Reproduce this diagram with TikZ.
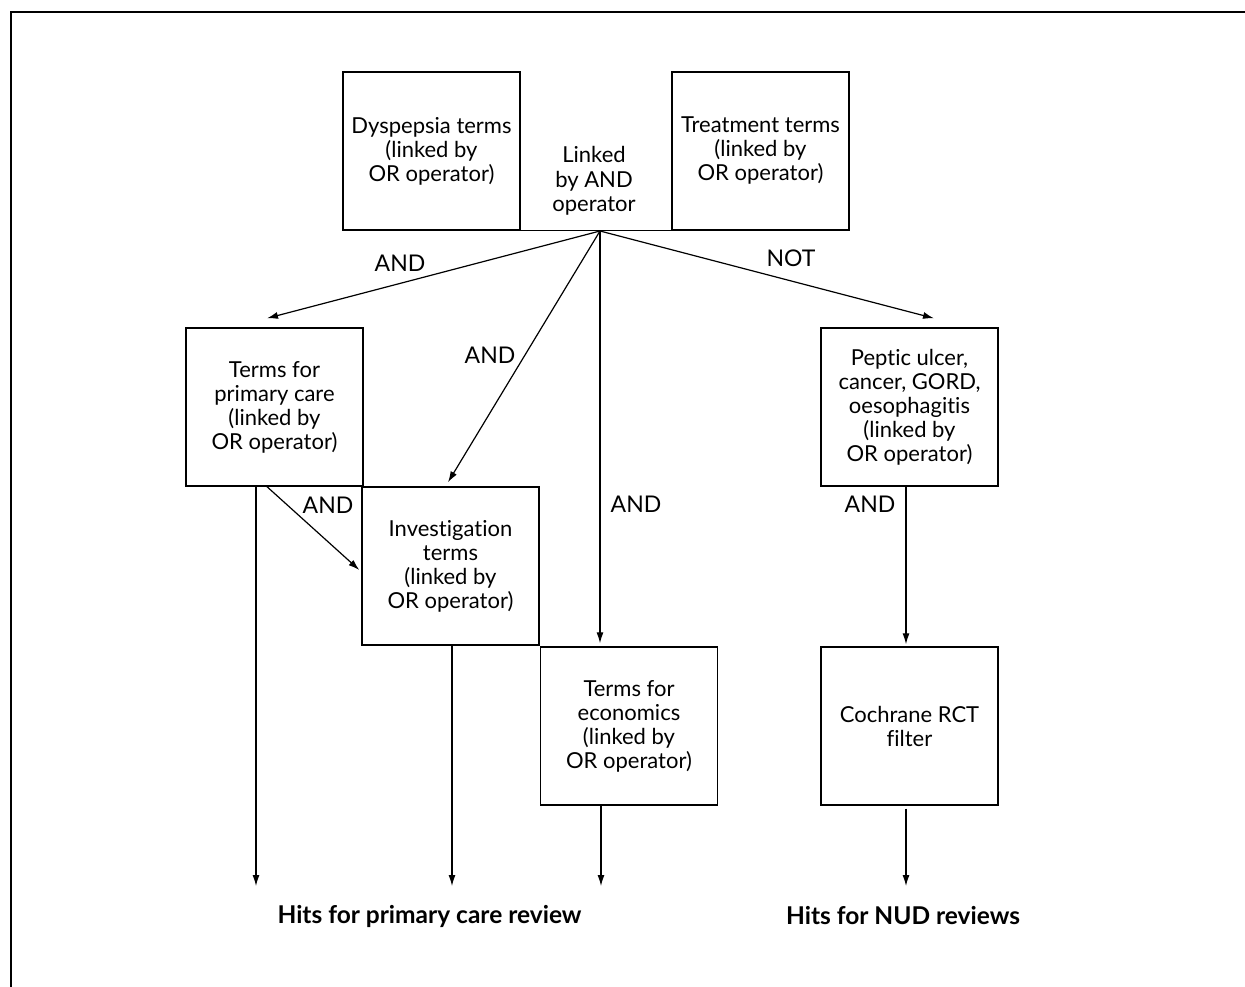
\documentclass[tikz,border=0pt]{standalone}
\usepackage{fontspec}
\setmainfont{Lato}[Ligatures=NoCommon]
\usetikzlibrary{arrows.meta,calc}
\tikzset{
  box/.style={draw,line width=1.4pt,minimum width=177pt,minimum height=158pt,inner sep=0pt,align=center,font=\fontsize{22}{24}\selectfont},
  arr/.style={line width=1.2pt,-{Latex[length=11pt,width=7pt]}},
  lab/.style={font=\fontsize{23}{24}\selectfont,inner sep=0pt},
  hits/.style={font=\fontsize{24.5}{26}\selectfont\bfseries,inner sep=0pt},
}
\begin{document}
\begin{tikzpicture}[x=1pt,y=-1pt]
\useasboundingbox (0,0) rectangle (1245,987);
\draw[line width=1.6pt] (1250,12) -- (11,12) -- (11,995);
% top boxes
\node[box] (dys) at (431.5,151) {Dyspepsia terms\\(linked by\\OR operator)};
\node[box] (trt) at (760.5,151) {Treatment terms\\(linked by\\OR operator)};
\node[inner sep=0pt,align=center,font=\fontsize{22}{24.5}\selectfont] (link) at (594,181) {Linked\\by AND\\operator};
\draw[line width=1.4pt] (dys.south east) -- (trt.south west);
\coordinate (apex) at (600,231);
% middle boxes
\node[box] (pc) at (274.5,407) {Terms for\\primary care\\(linked by\\OR operator)};
\node[box] (inv) at (450.5,566) {Investigation\\terms\\(linked by\\OR operator)};
\node[box] (eco) at (629,726) {Terms for\\economics\\(linked by\\OR operator)};
\node[box] (pep) at (909.5,407) {Peptic ulcer,\\cancer, GORD,\\oesophagitis\\(linked by\\OR operator)};
\node[box] (coch) at (909.5,726) {Cochrane RCT\\filter};
\coordinate (ecotop) at ([yshift=3pt]eco.north);
% arrows from apex
\draw[arr] (apex) -- ([xshift=-7.5pt,yshift=9pt]pc.north);
\draw[arr] (apex) -- ([xshift=-2.5pt,yshift=4pt]inv.north);
\draw[arr] (apex) -- (apex |- ecotop);
\draw[arr] (apex) -- ([xshift=24.5pt,yshift=9pt]pep.north);
\draw[arr] ([xshift=-7.5pt]pc.south) -- ([xshift=-2pt,yshift=-4pt]inv.west);
\draw[arr] ([xshift=-3.5pt]pep.south) -- ([xshift=-3.5pt,yshift=2pt]coch.north);
% labels
\node[lab] (l1) at (400,263) {AND};
\node[lab] (l2) at (490,355) {AND};
\node[lab] (l3) at (636,504) {AND};
\node[lab] (l4) at (791,258) {NOT};
\node[lab] (l5) at (328,505) {AND};
\node[lab] (l6) at (870,504) {AND};
% outputs
\coordinate (e1) at (256,886);
\coordinate (e2) at (452,886);
\coordinate (e3) at (601,886);
\coordinate (e4) at (906,886);
\draw[arr] (pc.south -| e1) -- (e1);
\draw[arr] (inv.south -| e2) -- (e2);
\draw[arr] (eco.south -| e3) -- (e3);
\draw[arr] ([yshift=-3pt]coch.south -| e4) -- (e4);
\node[hits] (h1) at (429.5,916) {Hits for primary care review};
\node[hits] (h2) at (903,916) {Hits for NUD reviews};
\end{tikzpicture}
\end{document}
